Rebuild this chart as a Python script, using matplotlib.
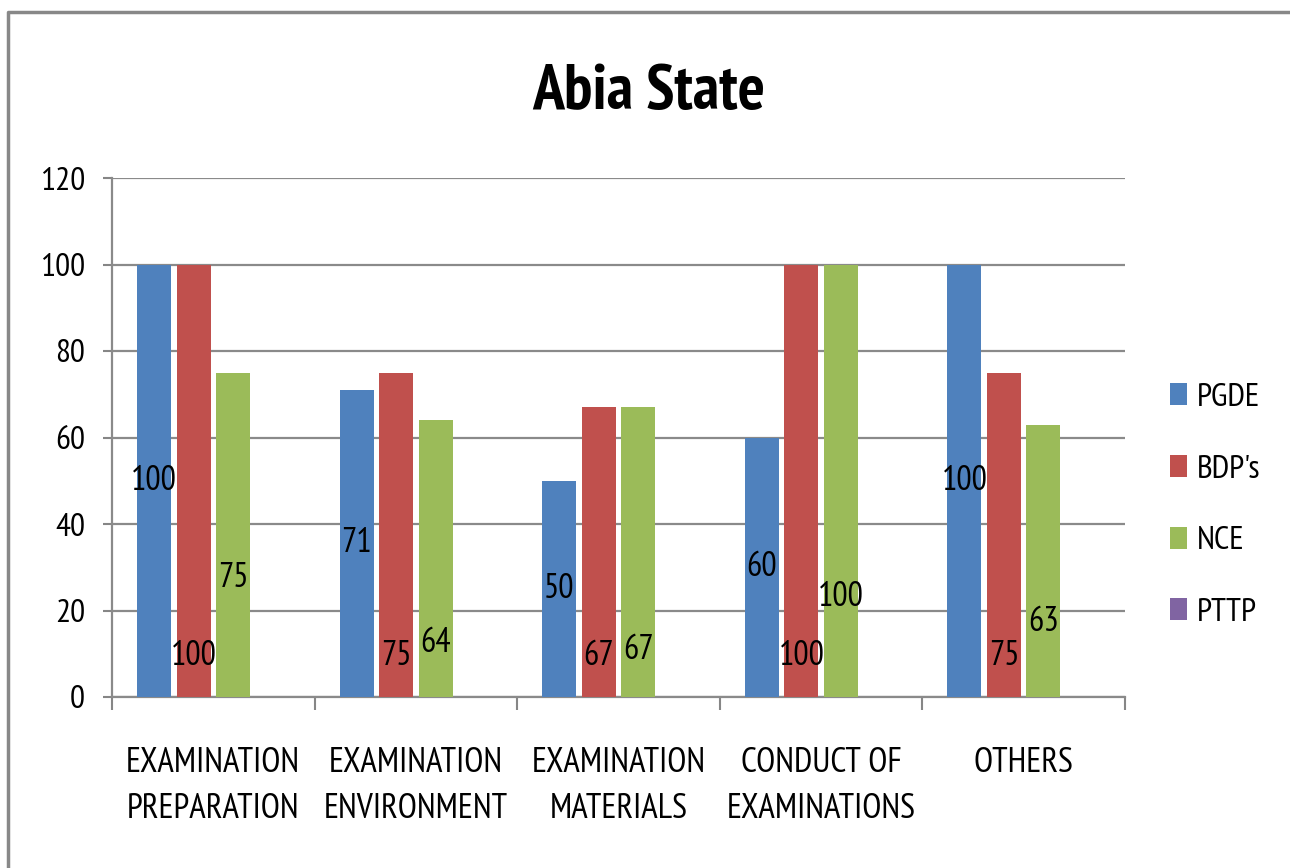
import matplotlib
matplotlib.use("Agg")
import matplotlib.pyplot as plt
import numpy as np
from matplotlib.patches import Patch
from matplotlib.lines import Line2D

# ---- data ----
categories = ["EXAMINATION\nPREPARATION", "EXAMINATION\nENVIRONMENT", "EXAMINATION\nMATERIALS",
              "CONDUCT OF\nEXAMINATIONS", "OTHERS"]
series_names = ["PGDE", "BDP's", "NCE", "PTTP"]
pgde = [100, 71, 50, 60, 100]
bdps = [100, 75, 67, 100, 75]
nce = [75, 64, 67, 100, 63]
pttp = [0, 0, 0, 0, 0]
title = "Abia State"
yticks = [0, 20, 40, 60, 80, 100, 120]

# label heights as drawn in the original (data units)
pgde_label_y = [v / 2 for v in pgde]
bdps_label_y = [9.5] * 5
nce_label_y = [27.5, 12.6, 10.9, 23.2, 17.4]

colors = ["#4F81BD", "#C0504D", "#9BBB59", "#8064A2"]

plt.rcParams["font.family"] = ["PT Sans Narrow", "DejaVu Sans"]

W, H = 1290, 868
fig = plt.figure(figsize=(W / 100, H / 100), dpi=100)
ax = fig.add_axes([112 / W, 1 - 697 / H, (1125 - 112) / W, (697 - 178) / H])

x = np.arange(len(categories))
pitch = 0.195
bw = 0.168
all_series = [pgde, bdps, nce, pttp]
label_ys = [pgde_label_y, bdps_label_y, nce_label_y, None]
for i, (vals, col) in enumerate(zip(all_series, colors)):
    pos = x + (i - 1.5) * pitch
    ax.bar(pos, vals, width=bw, color=col, zorder=3)
    if label_ys[i] is not None:
        for px, v, ly in zip(pos, vals, label_ys[i]):
            ax.text(px, ly, str(v), ha="center", va="center", fontsize=24.5, color="black", zorder=4)

ax.set_xlim(-0.5, len(categories) - 0.5)
ax.set_ylim(0, 120)
ax.set_yticks(yticks)
ax.set_xticks(x)
ax.set_xticklabels(categories, fontsize=25, linespacing=1.55)
ax.set_xticks(np.arange(-0.5, len(categories), 1.0), minor=True)
ax.tick_params(axis="x", which="major", length=0, pad=36)
ax.tick_params(axis="x", which="minor", length=9.5, width=1.5, color="#868686", direction="out")
ax.tick_params(axis="y", length=6.5, width=1.5, color="#868686", pad=13, labelsize=24)

ax.grid(axis="y", color="#8a8a8a", linewidth=1.6, zorder=0)
for s in ["top", "right"]:
    ax.spines[s].set_visible(False)
for s in ["left", "bottom"]:
    ax.spines[s].set_color("#8a8a8a")
    ax.spines[s].set_linewidth(1.6)

fig.text(649 / W, 1 - 109 / H, title, ha="center", va="baseline", fontsize=46, fontweight="bold")

handles = [Patch(facecolor=c, edgecolor="none") for c in colors]
fig.legend(handles, series_names, loc="upper left", bbox_to_anchor=(1170 / W, 1 - 383 / H),
           frameon=False, fontsize=24, handlelength=0.5, handleheight=0.65,
           handletextpad=0.3, labelspacing=1.25, borderpad=0, borderaxespad=0)

# outer chart border (runs off the right and bottom edges)
fig.add_artist(Line2D([7.5 / W, 7.5 / W, 1.0], [0, 1 - 12 / H, 1 - 12 / H],
                      transform=fig.transFigure, color="#888888", linewidth=2.5))

fig.savefig("out.png", dpi=100)
